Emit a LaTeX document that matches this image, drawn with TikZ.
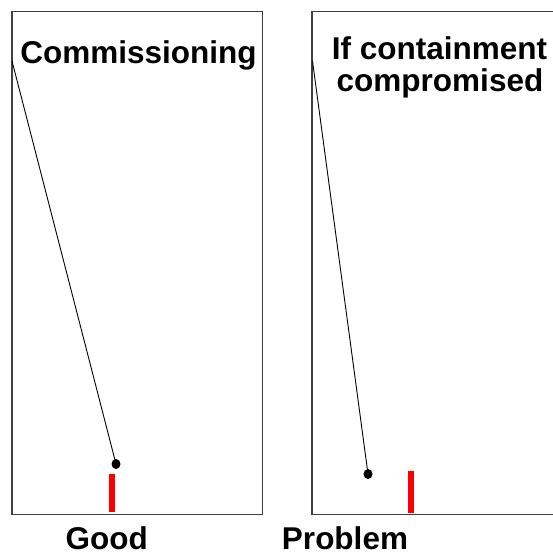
\documentclass[tikz,border=0pt]{standalone}
\usepackage{fontspec}
\setmainfont{Liberation Sans}
\usetikzlibrary{shapes.geometric}
\begin{document}
\begin{tikzpicture}[x=1pt,y=-1pt,
  frame/.style={draw=black!75,line width=1.3pt},
  rod/.style={draw=black,line width=0.9pt},
  bob/.style={ellipse,fill=black,inner sep=0pt,minimum width=9pt,minimum height=10pt},
  redbar/.style={draw=red,line width=5.5pt},
  lbl/.style={font=\fontsize{31.5}{32}\selectfont\bfseries,anchor=base,inner sep=0pt}]
\useasboundingbox (0,0) rectangle (553,554);
% frames
\draw[frame] (12,11.5) rectangle (262.7,514.3);
\draw[frame] (553,11.5) -- (312,11.5) -- (312,514.3) -- (553,514.3);
% left pendulum
\coordinate (pl) at (12,61);
\node[bob] (bl) at (116,464) {};
\draw[rod] (pl) -- (bl.center);
\coordinate (rl1) at (112,473.5);
\coordinate (rl2) at (112,512);
\draw[redbar] (rl1) -- (rl2);
% right pendulum
\coordinate (pr) at (312.5,61);
\node[bob] (br) at (368,474) {};
\draw[rod] (pr) -- (br.center);
\coordinate (rr1) at (410.8,470.5);
\coordinate (rr2) at (410.8,513);
\draw[redbar] (rr1) -- (rr2);
% labels
\node[lbl] (t1) at (138.5,63.5) {Commissioning};
\node[lbl] (t2) at (439.5,59.3) {If containment};
\node[lbl] (t3) at (440,91) {compromised};
\node[lbl,text depth=0pt] (t4) at (106.7,549) {Good};
\node[lbl,text depth=0pt] (t5) at (345,549) {Problem};
\end{tikzpicture}
\end{document}
